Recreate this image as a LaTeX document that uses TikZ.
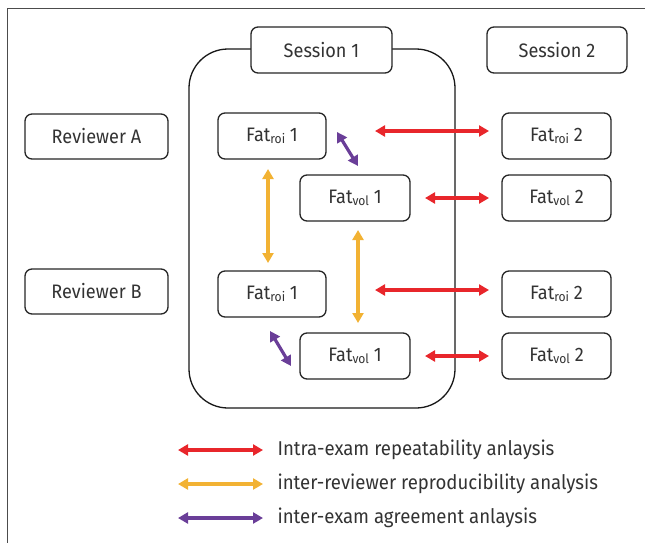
\documentclass[tikz,border=0pt]{standalone}
\usepackage{fontspec}
\setmainfont{Fira Sans}[FakeStretch=0.93]
\usetikzlibrary{arrows.meta}
\definecolor{cred}{HTML}{E8262B}
\definecolor{cyel}{HTML}{F2B233}
\definecolor{cpur}{HTML}{6A3E98}
\newcommand{\fsub}[1]{\raisebox{-2.5pt}{\fontsize{13}{14}\selectfont #1}}
\tikzset{
  box/.style={draw=black!85, line width=1.3pt, rounded corners=7pt, fill=white, text=black!80, font=\fontsize{19.5}{22}\selectfont},
  dar/.style={line width=3.2pt, {Triangle[width=11pt,length=10pt]}-{Triangle[width=11pt,length=10pt]}},
  leg/.style={anchor=west, font=\fontsize{20}{23}\selectfont, text=black!80}
}
\begin{document}
\begin{tikzpicture}[x=1pt,y=-1pt]
\useasboundingbox (0,0) rectangle (645,543);
\draw[black!70, line width=1pt] (7,543) -- (7,9) -- (645,9);
% container
\draw[black!90, line width=1.3pt, rounded corners=39pt] (189,49) rectangle (455,408);
\node[box, minimum width=141pt, minimum height=46pt] (s1) at (321.5,50) {Session 1};
\node[box, minimum width=140pt, minimum height=46pt] (s2) at (557,50) {Session 2};
\node[box, minimum width=143pt, minimum height=45pt] (ra) at (96.5,136.5) {Reviewer A};
\node[box, minimum width=143pt, minimum height=45pt] (rb) at (96.5,291.5) {Reviewer B};
\node[box, minimum width=108pt, minimum height=46pt] (r1a) at (272,136) {Fat\fsub{roi} 1};
\node[box, minimum width=110pt, minimum height=46pt] (v1a) at (355,198) {Fat\fsub{vol} 1};
\node[box, minimum width=108pt, minimum height=46pt] (r1b) at (272,294) {Fat\fsub{roi} 1};
\node[box, minimum width=110pt, minimum height=46pt] (v1b) at (355,356) {Fat\fsub{vol} 1};
\node[box, minimum width=109pt, minimum height=46pt] (r2a) at (556.5,136) {Fat\fsub{roi} 2};
\node[box, minimum width=109pt, minimum height=46pt] (v2a) at (556.5,198) {Fat\fsub{vol} 2};
\node[box, minimum width=109pt, minimum height=46pt] (r2b) at (556.5,294) {Fat\fsub{roi} 2};
\node[box, minimum width=109pt, minimum height=46pt] (v2b) at (556.5,356) {Fat\fsub{vol} 2};
% red arrows (free ends between the columns)
\coordinate (ra1) at (375,131); \coordinate (rb1) at (489,131);
\coordinate (ra2) at (425,198); \coordinate (rb2) at (489,198);
\coordinate (ra3) at (375,290); \coordinate (rb3) at (489,290);
\coordinate (ra4) at (425,356); \coordinate (rb4) at (489,356);
\draw[dar, cred] (ra1) -- (rb1);
\draw[dar, cred] (ra2) -- (rb2);
\draw[dar, cred] (ra3) -- (rb3);
\draw[dar, cred] (ra4) -- (rb4);
% yellow arrows
\coordinate (y1a) at (268,169); \coordinate (y1b) at (268,263);
\coordinate (y2a) at (358,230); \coordinate (y2b) at (358,323);
\draw[dar, cyel] (y1a) -- (y1b);
\draw[dar, cyel] (y2a) -- (y2b);
% purple arrows
\coordinate (p1) at (337,132); \coordinate (p2) at (358,166);
\coordinate (p3) at (270,331); \coordinate (p4) at (291,366);
\draw[dar, cpur] (p1) -- (p2);
\draw[dar, cpur] (p3) -- (p4);
% legend
\coordinate (l1a) at (178,450); \coordinate (l1b) at (263,450);
\coordinate (l2a) at (178,484); \coordinate (l2b) at (263,484);
\coordinate (l3a) at (178,518); \coordinate (l3b) at (263,518);
\draw[dar, cred] (l1a) -- (l1b);
\draw[dar, cyel] (l2a) -- (l2b);
\draw[dar, cpur] (l3a) -- (l3b);
\node[leg] (t1) at (274,450) {Intra-exam repeatability anlaysis};
\node[leg] (t2) at (274,484) {inter-reviewer reproducibility analysis};
\node[leg] (t3) at (274,518) {inter-exam agreement anlaysis};
\end{tikzpicture}
\end{document}
